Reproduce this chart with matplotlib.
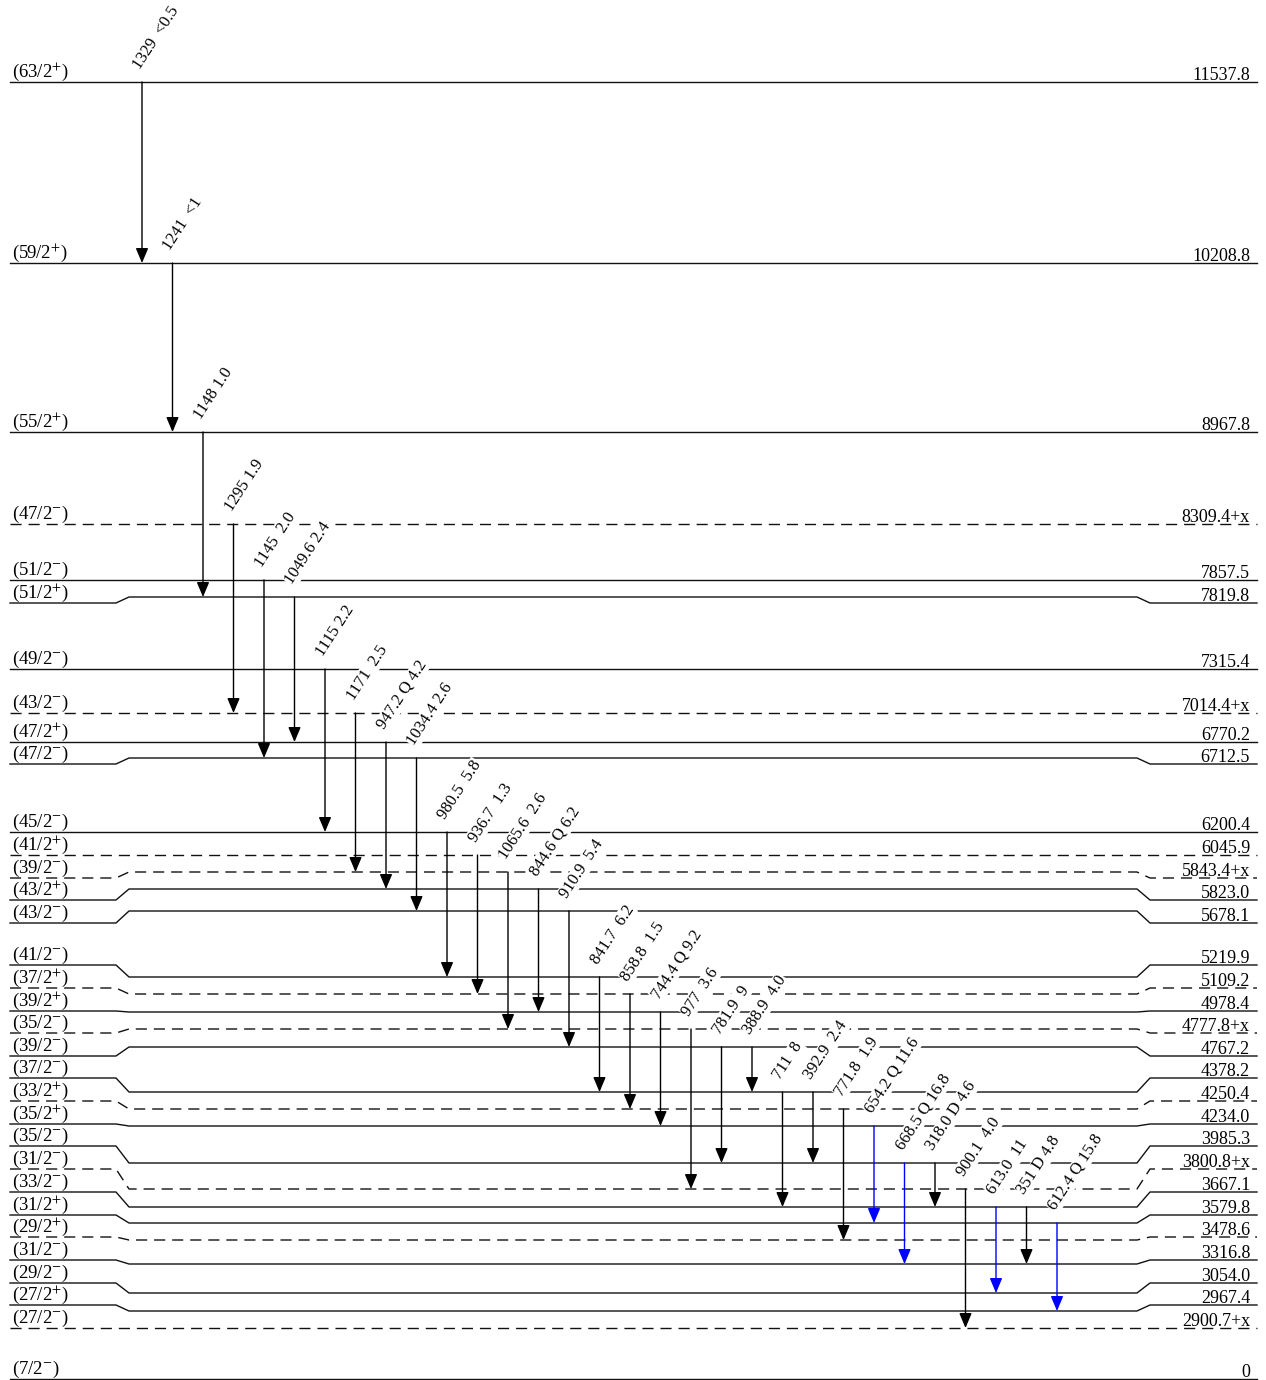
import matplotlib
matplotlib.use("Agg")
import matplotlib.pyplot as plt

plt.rcParams["font.family"] = ["Liberation Serif", "DejaVu Serif"]
plt.rcParams["mathtext.fontset"] = "stix"
plt.rcParams["lines.scale_dashes"] = False

# levels, top to bottom
level_spins = ["63/2+", "59/2+", "55/2+", "47/2-", "51/2-", "51/2+", "49/2-", "43/2-",
               "47/2+", "47/2-", "45/2-", "41/2+", "39/2-", "43/2+", "43/2-", "41/2-",
               "37/2+", "39/2+", "35/2-", "39/2-", "37/2-", "33/2+", "35/2+", "35/2-",
               "31/2-", "33/2-", "31/2+", "29/2+", "31/2-", "29/2-", "27/2+", "27/2-", "7/2-"]
level_energies = ["11537.8", "10208.8", "8967.8", "8309.4+x", "7857.5", "7819.8", "7315.4",
                  "7014.4+x", "6770.2", "6712.5", "6200.4", "6045.9", "5843.4+x", "5823.0",
                  "5678.1", "5219.9", "5109.2", "4978.4", "4777.8+x", "4767.2", "4378.2",
                  "4250.4", "4234.0", "3985.3", "3800.8+x", "3667.1", "3579.8", "3478.6",
                  "3316.8", "3054.0", "2967.4", "2900.7+x", "0"]
level_tentative = [False, False, False, True, False, False, False, True,
                   False, False, False, True, True, False, False, False,
                   True, False, True, False, False, True, False, False,
                   True, False, False, True, False, False, False, True, False]

# gamma transitions, left to right
gamma_labels = ["1329  <0.5", "1241  <1", "1148 1.0", "1295 1.9", "1145  2.0", "1049.6 2.4",
                "1115 2.2", "1171  2.5", "947.2 Q 4.2", "1034.4 2.6", "980.5  5.8",
                "936.7  1.3", "1065.6  2.6", "844.6 Q 6.2", "910.9  5.4", "841.7  6.2",
                "858.8  1.5", "744.4 Q 9.2", "977  3.6", "781.9  9", "388.9  4.0", "711  8",
                "392.9  2.4", "771.8  1.9", "654.2 Q 11.6", "668.5 Q 16.8", "318.0 D 4.6",
                "900.1  4.0", "613.0  11", "351 D 4.8", "612.4 Q 15.8"]
gamma_from = ["11537.8", "10208.8", "8967.8", "8309.4+x", "7857.5", "7819.8", "7315.4",
              "7014.4+x", "6770.2", "6712.5", "6200.4", "6045.9", "5843.4+x", "5823.0",
              "5678.1", "5219.9", "5109.2", "4978.4", "4777.8+x", "4767.2", "4767.2",
              "4378.2", "4378.2", "4250.4", "4234.0", "3985.3", "3985.3", "3800.8+x",
              "3667.1", "3667.1", "3579.8"]
gamma_to = ["10208.8", "8967.8", "7819.8", "7014.4+x", "6712.5", "6770.2", "6200.4",
            "5843.4+x", "5823.0", "5678.1", "5219.9", "5109.2", "4777.8+x", "4978.4",
            "4767.2", "4378.2", "4250.4", "4234.0", "3800.8+x", "3985.3", "4378.2",
            "3667.1", "3985.3", "3478.6", "3579.8", "3316.8", "3667.1", "2900.7+x",
            "3054.0", "3316.8", "2967.4"]
gamma_band = ["k"] * 24 + ["b", "b", "k", "k", "b", "k", "b"]

# drawing layout (pixels from top): label ends and middle part of each level line
level_y_end = [82, 263, 432, 524, 580, 603, 669, 713, 742, 764, 832, 855, 878, 900, 923, 965,
               988, 1011, 1033, 1056, 1078, 1101, 1124, 1146, 1169, 1192, 1215, 1237, 1260,
               1283, 1305, 1328, 1379]
level_y_mid = [82, 263, 432, 524, 580, 597, 669, 713, 742, 758, 832, 855, 872, 889, 911, 977,
               994, 1012, 1029, 1047, 1092, 1109, 1126, 1163, 1189, 1207, 1223, 1240, 1264,
               1293, 1311, 1328, 1379]
line_x = [10, 116, 129, 1137, 1150, 1257]
arrow_x0, arrow_dx = 142, 30.5


def spin_text(s):
    return "(" + s[:-1] + "$^{" + ("+" if s[-1] == "+" else "-") + "}$)"


fig = plt.figure(figsize=(12.66, 13.8), dpi=100)
ax = fig.add_axes([0, 0, 1, 1])
ax.set_xlim(0, 1266)
ax.set_ylim(1380, 0)
ax.axis("off")

for spin, energy, tent, ye, ym in zip(level_spins, level_energies, level_tentative,
                                      level_y_end, level_y_mid):
    ls = (0, (8, 5)) if tent else "-"
    ax.plot(line_x, [ye, ye, ym, ym, ye, ye], color="#111111", lw=1.0, ls=ls, zorder=1)
    ax.text(12, ye - 5, spin_text(spin), fontsize=13.5, ha="left", va="baseline")
    ax.text(1250, ye - 2, energy, fontsize=13, ha="right", va="baseline")

mid = dict(zip(level_energies, level_y_mid))
for i, (lab, e0, e1, col) in enumerate(zip(gamma_labels, gamma_from, gamma_to, gamma_band)):
    x = arrow_x0 + i * arrow_dx
    y0, y1 = mid[e0], mid[e1]
    ax.annotate("", xy=(x, y1), xytext=(x, y0),
                arrowprops=dict(arrowstyle="-|>,head_length=0.9,head_width=0.38",
                                color="blue" if col == "b" else "black",
                                lw=1.0, shrinkA=0, shrinkB=0), zorder=3)
    ax.text(x - 2, y0 - 12, lab, fontsize=12, rotation=57, rotation_mode="anchor",
            ha="left", va="baseline", zorder=2,
            bbox=dict(facecolor="white", edgecolor="none", pad=0.5))

fig.savefig("out.png", dpi=100)
